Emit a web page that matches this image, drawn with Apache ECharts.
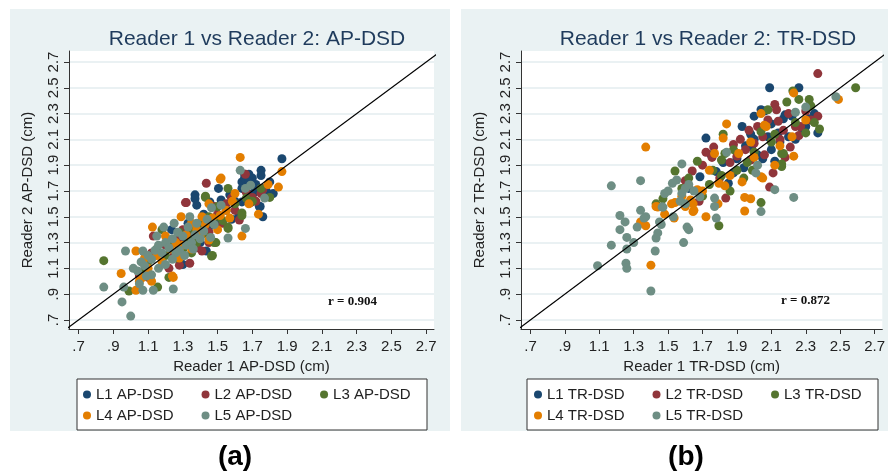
<!DOCTYPE html>
<html>
<head>
<meta charset="utf-8">
<script src="https://cdn.jsdelivr.net/npm/echarts@6/dist/echarts.min.js"></script>
<style>
  html, body { margin: 0; padding: 0; background: #fff; }
  #main { width: 888px; height: 476px; }
</style>
</head>
<body>
<div id="main"></div>
<script>
// 刻度
const tickVals = [0.7, 0.9, 1.1, 1.3, 1.5, 1.7, 1.9, 2.1, 2.3, 2.5, 2.7];
const tickLabels = ['.7', '.9', '1.1', '1.3', '1.5', '1.7', '1.9', '2.1', '2.3', '2.5', '2.7'];

// (a) AP-DSD
const l1ap = [[1.87,1.95],[1.75,1.86],[1.75,1.82],[1.68,1.83],[1.64,1.77],[1.37,1.67],[1.37,1.64],[1.82,1.68],[1.745,1.58],[1.76,1.50],[1.30,1.13],[1.435,1.235],[1.80,1.77],[1.74,1.58],[1.655,1.83],[1.655,1.80],[1.70,1.80],[1.68,1.77],[1.64,1.72],[1.71,1.69],[1.505,1.72],[1.57,1.67],[1.64,1.615],[1.455,1.615],[1.38,1.59],[1.235,1.40],[1.72,1.75],[1.6,1.62],[1.55,1.55],[1.5,1.45],[1.45,1.42],[1.42,1.52],[1.35,1.38],[1.3,1.32],[1.28,1.25],[1.4,1.3],[1.62,1.5],[1.78,1.7],[1.52,1.63],[1.33,1.45],[1.58,1.48]];
const l2ap = [[1.66,1.83],[1.435,1.76],[1.32,1.61],[1.76,1.71],[1.625,1.475],[1.13,1.35],[1.34,1.14],[1.28,1.125],[1.41,1.235],[1.10,1.03],[1.665,1.69],[1.58,1.645],[1.69,1.61],[1.53,1.45],[1.315,1.61],[1.76,1.72],[1.12,1.22],[1.2,1.28],[1.25,1.2],[1.3,1.4],[1.35,1.35],[1.4,1.42],[1.45,1.38],[1.5,1.52],[1.55,1.6],[1.6,1.55],[1.7,1.65],[1.72,1.62],[1.38,1.26],[1.45,1.3],[1.22,1.1],[1.05,1.04],[1.75,1.68],[1.48,1.58],[1.27,1.32]];
const l3ap = [[0.845,1.16],[0.99,0.925],[1.155,0.955],[1.22,1.03],[1.18,1.40],[1.465,1.195],[1.49,1.30],[1.43,1.66],[1.64,1.53],[1.80,1.65],[1.56,1.72],[1.665,1.645],[1.64,1.51],[1.43,1.65],[1.51,1.50],[1.56,1.42],[1.48,1.30],[1.56,1.41],[1.47,1.20],[1.1,1.15],[1.15,1.25],[1.2,1.2],[1.25,1.3],[1.28,1.38],[1.3,1.25],[1.33,1.33],[1.36,1.4],[1.38,1.3],[1.4,1.45],[1.42,1.37],[1.45,1.5],[1.5,1.58],[1.53,1.47],[1.6,1.6],[1.7,1.62],[1.75,1.72],[1.26,1.18],[1.35,1.22],[1.08,1.08]];
const l4ap = [[1.63,1.96],[1.87,1.85],[1.515,1.79],[1.79,1.75],[1.85,1.73],[1.735,1.52],[1.57,1.49],[1.515,1.51],[1.125,1.42],[1.64,1.35],[0.945,1.06],[1.03,1.235],[1.03,0.93],[1.24,1.04],[1.07,1.03],[1.12,1.0],[1.52,1.80],[1.585,1.62],[1.45,1.60],[1.29,1.50],[1.41,1.50],[1.47,1.49],[1.245,1.03],[1.15,1.2],[1.18,1.15],[1.2,1.35],[1.23,1.25],[1.26,1.3],[1.3,1.28],[1.32,1.36],[1.35,1.45],[1.38,1.4],[1.4,1.35],[1.43,1.44],[1.45,1.32],[1.5,1.4],[1.55,1.55],[1.6,1.68],[1.68,1.6],[1.35,1.25],[1.28,1.18],[1.1,1.1],[1.08,1.18],[1.05,1.0]];
const l5ap = [[0.845,0.955],[0.95,0.84],[1.0,0.73],[0.97,1.235],[1.07,1.235],[0.96,0.955],[1.07,0.93],[1.13,0.93],[1.245,0.94],[1.015,1.10],[1.04,1.08],[1.06,1.15],[1.08,1.12],[1.1,1.2],[1.12,1.17],[1.14,1.24],[1.16,1.28],[1.18,1.22],[1.2,1.3],[1.22,1.26],[1.24,1.33],[1.26,1.22],[1.27,1.38],[1.3,1.35],[1.32,1.28],[1.33,1.42],[1.35,1.3],[1.37,1.36],[1.38,1.45],[1.4,1.33],[1.42,1.39],[1.44,1.48],[1.46,1.34],[1.465,1.57],[1.52,1.59],[1.56,1.335],[1.66,1.41],[1.63,1.86],[1.66,1.72],[1.69,1.745],[1.77,1.645],[1.12,1.05],[1.16,1.1],[1.2,1.13],[1.24,1.17],[1.28,1.24],[1.31,1.2],[1.36,1.25],[1.05,0.98],[1.09,1.04],[1.15,1.35],[1.19,1.42],[1.25,1.45],[1.34,1.5],[1.48,1.44]];

// (b) TR-DSD
const l1tr = [[2.09,2.5],[2.26,2.5],[2.04,2.33],[2.35,2.30],[2.18,2.29],[2.17,2.26],[2.37,2.15],[1.93,2.20],[1.72,2.11],[1.685,1.81],[1.85,1.76],[1.985,2.04],[2.06,2.32],[2.1,2.22],[2.14,2.15],[2.2,2.12],[2.24,2.1],[2.0,2.1],[1.95,2.05],[2.02,1.98],[2.1,2.02],[2.15,2.08],[2.28,2.18],[2.32,2.26],[1.9,1.95],[1.82,1.92],[1.78,1.85],[2.05,1.95],[2.12,1.93],[1.98,2.14],[1.62,1.72],[1.75,1.98],[2.3,2.2],[2.08,2.12],[1.88,1.84],[2.22,2.28],[1.94,1.88],[2.0,2.28]];
const l2tr = [[2.37,2.61],[2.12,2.37],[2.37,2.28],[2.27,2.2],[1.97,2.17],[1.64,1.855],[1.72,2.0],[1.765,2.04],[2.09,1.73],[2.11,1.84],[1.835,1.645],[1.755,1.96],[2.17,2.17],[2.21,2.04],[2.13,2.33],[2.2,2.3],[2.33,2.25],[2.3,2.32],[2.05,2.12],[2.0,2.07],[1.95,2.02],[1.9,1.97],[1.86,1.92],[2.14,2.24],[2.24,2.2],[2.18,1.96],[1.98,1.94],[2.02,2.2],[1.92,2.1],[1.8,1.8],[1.6,1.78],[1.7,1.9],[2.26,2.13],[2.08,2.25],[1.68,1.62],[2.06,1.98],[2.15,2.1],[1.88,2.06]];
const l3tr = [[2.59,2.5],[2.225,2.475],[2.26,2.41],[2.32,2.41],[2.19,2.39],[2.08,2.33],[2.35,2.23],[2.24,2.23],[2.30,2.15],[1.82,2.14],[1.67,1.93],[1.54,1.855],[2.04,1.61],[2.16,1.91],[2.16,1.99],[1.47,1.64],[1.795,1.43],[1.83,1.99],[1.81,1.94],[1.81,1.82],[1.90,1.86],[2.33,2.36],[2.17,1.99],[2.16,1.89],[1.94,1.8],[1.96,1.92],[2.0,2.0],[1.58,1.72],[1.62,1.8],[1.74,1.75],[1.7,1.66],[1.86,1.7],[2.1,2.08],[2.04,2.16],[2.12,2.14],[1.99,1.86],[2.38,2.18],[1.76,1.86],[1.88,2.02],[1.43,1.6]];
const l4tr = [[2.49,2.41],[2.23,2.46],[2.04,2.30],[2.30,2.25],[2.22,2.12],[1.84,2.22],[1.82,2.11],[2.07,2.20],[1.37,2.04],[1.945,1.545],[1.945,1.65],[1.98,1.64],[2.05,1.80],[2.23,1.97],[2.12,1.90],[1.34,1.46],[1.37,1.43],[1.43,1.58],[1.52,1.60],[1.645,1.60],[1.645,1.54],[1.72,1.50],[1.79,1.60],[1.40,1.125],[1.77,1.99],[1.91,1.99],[1.74,1.86],[1.93,1.77],[1.67,1.71],[1.795,1.76],[1.83,1.74],[1.63,1.63],[1.54,1.61],[1.44,1.575],[1.65,1.55],[1.35,1.45],[1.535,1.49],[2.06,2.21],[2.04,1.81],[1.58,1.66],[1.7,1.7],[1.86,1.82],[2.0,1.96],[1.6,1.58],[1.48,1.52],[2.15,2.05],[1.98,2.08]];
const l5tr = [[2.475,2.43],[2.24,2.31],[2.30,2.35],[1.17,1.74],[1.34,1.78],[1.58,1.91],[2.23,1.65],[2.04,1.54],[2.12,1.71],[2.02,1.90],[1.22,1.51],[1.25,1.46],[1.22,1.40],[1.34,1.55],[1.37,1.50],[1.47,1.575],[1.53,1.50],[1.78,1.49],[1.62,1.40],[1.45,1.46],[1.09,1.12],[1.17,1.28],[1.26,1.25],[1.26,1.34],[1.255,1.14],[1.26,1.10],[1.40,0.925],[1.425,1.235],[1.43,1.335],[1.59,1.30],[1.84,2.0],[1.55,1.785],[1.525,1.76],[1.77,1.645],[1.685,1.655],[1.465,1.575],[1.36,1.49],[1.44,1.375],[1.46,1.44],[1.61,1.42],[1.6,1.72],[1.58,1.68],[1.62,1.75],[1.65,1.7],[1.5,1.7],[1.57,1.62],[2.01,1.84],[1.77,1.58],[1.6,1.6],[1.48,1.68],[1.3,1.3],[1.32,1.42]];

// y = x 参考线
const diag = [[0.6, 0.6], [2.8, 2.8]];

const apNames = ['L1 AP-DSD', 'L2 AP-DSD', 'L3 AP-DSD', 'L4 AP-DSD', 'L5 AP-DSD'];
const trNames = ['L1 TR-DSD', 'L2 TR-DSD', 'L3 TR-DSD', 'L4 TR-DSD', 'L5 TR-DSD'];
const colors = ['#1a476f', '#90353b', '#55752f', '#e37e00', '#6e8e84'];

const FONT = '"Liberation Sans", Arial, sans-serif';

function fmt(v) {
    let i = tickVals.findIndex(t => Math.abs(t - v) < 1e-6);
    return i >= 0 ? tickLabels[i] : '';
}

function xAxisOf(idx, name) {
    return {
        type: 'value', gridIndex: idx, min: 0.645, max: 2.745,
        name: name, nameLocation: 'middle', nameGap: 29,
        nameTextStyle: { fontSize: 15, color: '#222', fontFamily: FONT },
        axisLine: { show: true, onZero: false, lineStyle: { color: '#333', width: 1 } },
        axisTick: { show: true, customValues: tickVals, length: 5, lineStyle: { color: '#333' } },
        axisLabel: { customValues: tickVals, formatter: fmt, fontSize: 15, color: '#222', fontFamily: FONT, margin: 10 },
        splitLine: { show: false }
    };
}
function yAxisOf(idx, name) {
    return {
        type: 'value', gridIndex: idx, min: 0.63, max: 2.785,
        name: name, nameLocation: 'middle', nameGap: 34,
        nameTextStyle: { fontSize: 15, color: '#222', fontFamily: FONT },
        axisLine: { show: true, onZero: false, lineStyle: { color: '#333', width: 1 } },
        axisTick: { show: true, customValues: tickVals, length: 5, lineStyle: { color: '#333' } },
        axisLabel: { customValues: tickVals, formatter: fmt, rotate: 90, fontSize: 15, color: '#222', fontFamily: FONT, margin: 8 },
        splitLine: { show: false }
    };
}

function panelSeries(idx, names, lists) {
    let out = [];
    // 网格线，放在散点下面
    out.push({
        type: 'line', xAxisIndex: idx, yAxisIndex: idx, data: [], z: 0, silent: true,
        markLine: {
            z: 0, silent: true, symbol: 'none', label: { show: false },
            lineStyle: { color: '#e3edef', width: 1.5, type: 'solid' },
            data: tickVals.map(v => ({ yAxis: v }))
        }
    });
    lists.forEach((d, i) => {
        out.push({
            name: names[i], type: 'scatter', xAxisIndex: idx, yAxisIndex: idx,
            data: d, symbolSize: 9, z: 2,
            itemStyle: { color: colors[i], opacity: 1 }
        });
    });
    out.push({
        type: 'line', xAxisIndex: idx, yAxisIndex: idx, data: diag, z: 5,
        symbol: 'none', silent: true, lineStyle: { color: '#000', width: 1.2 }
    });
    return out;
}

function legendRow(left, top, data) {
    return {
        left: left, top: top, data: data, padding: 0, itemGap: 28,
        icon: 'circle', itemWidth: 8, itemHeight: 8, selectedMode: false,
        textStyle: { fontSize: 15, color: '#222', fontFamily: FONT }
    };
}

let myChart = echarts.init(document.getElementById('main'));
let option = {
    backgroundColor: '#fff',
    animation: false,
    title: [
        { text: 'Reader 1 vs Reader 2: AP-DSD', left: 252, top: 24, textAlign: 'center',
          textStyle: { fontSize: 21, fontWeight: 'normal', color: '#1f3b5c', fontFamily: FONT } },
        { text: 'Reader 1 vs Reader 2: TR-DSD', left: 703, top: 24, textAlign: 'center',
          textStyle: { fontSize: 21, fontWeight: 'normal', color: '#1f3b5c', fontFamily: FONT } },
        { text: '(a)', left: 230, top: 438, textAlign: 'center',
          textStyle: { fontSize: 28, fontWeight: 'bold', color: '#000', fontFamily: FONT } },
        { text: '(b)', left: 681, top: 438, textAlign: 'center',
          textStyle: { fontSize: 28, fontWeight: 'bold', color: '#000', fontFamily: FONT } }
    ],
    grid: [
        { left: 69, top: 51, width: 365, height: 278, show: true, backgroundColor: '#fff', borderWidth: 0 },
        { left: 521, top: 51, width: 365, height: 278, show: true, backgroundColor: '#fff', borderWidth: 0 }
    ],
    xAxis: [xAxisOf(0, 'Reader 1 AP-DSD (cm)'), xAxisOf(1, 'Reader 1 TR-DSD (cm)')],
    yAxis: [yAxisOf(0, 'Reader 2 AP-DSD (cm)'), yAxisOf(1, 'Reader 2 TR-DSD (cm)')],
    legend: [
        legendRow(83, 387, apNames.slice(0, 3)),
        legendRow(83, 408, apNames.slice(3)),
        legendRow(534, 387, trNames.slice(0, 3)),
        legendRow(534, 408, trNames.slice(3))
    ],
    graphic: [
        { type: 'rect', z: -10, shape: { x: 10, y: 9, width: 440, height: 422 }, style: { fill: '#eaf2f3' } },
        { type: 'rect', z: -10, shape: { x: 461, y: 9, width: 427, height: 422 }, style: { fill: '#eaf2f3' } },
        { type: 'rect', z: 1, shape: { x: 77, y: 379, width: 350, height: 51 }, style: { fill: '#fff', stroke: '#333', lineWidth: 1 } },
        { type: 'rect', z: 1, shape: { x: 527, y: 379, width: 351, height: 51 }, style: { fill: '#fff', stroke: '#333', lineWidth: 1 } },
        { type: 'text', z: 10, left: 328, top: 295, style: { text: 'r = 0.904', font: 'bold 13px "Liberation Serif", "Times New Roman", serif', fill: '#111' } },
        { type: 'text', z: 10, left: 781, top: 294, style: { text: 'r = 0.872', font: 'bold 13px "Liberation Serif", "Times New Roman", serif', fill: '#111' } }
    ],
    series: panelSeries(0, apNames, [l1ap, l2ap, l3ap, l4ap, l5ap])
        .concat(panelSeries(1, trNames, [l1tr, l2tr, l3tr, l4tr, l5tr]))
};
myChart.setOption(option);
</script>
</body>
</html>
